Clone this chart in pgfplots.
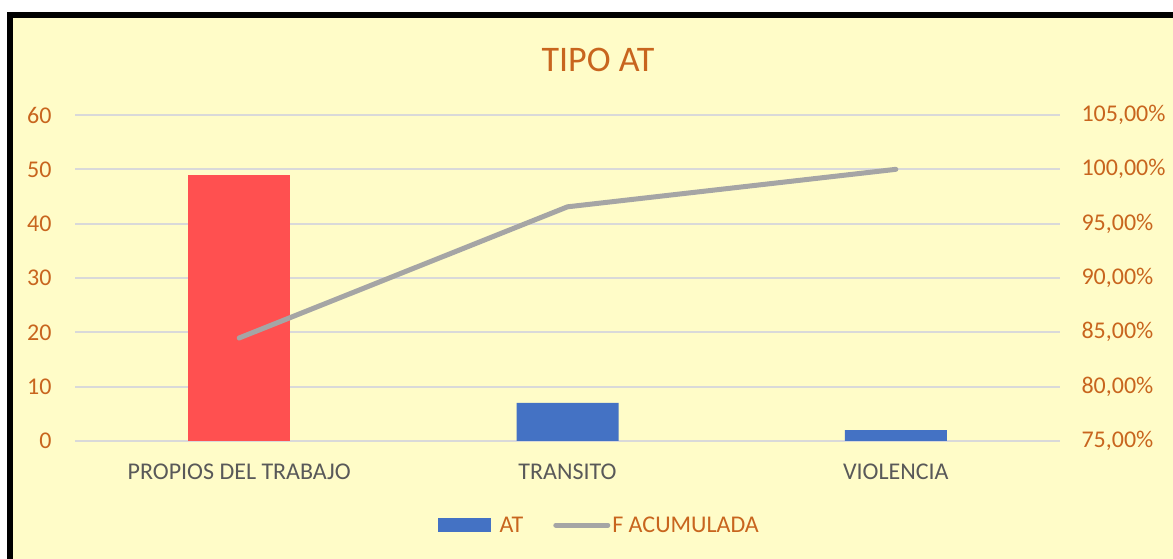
\documentclass[border=0pt]{standalone}
\usepackage{fontspec}
\setmainfont{Carlito}
\usepackage{pgfplots}
\pgfplotsset{compat=1.18}
\definecolor{bgYellow}{HTML}{FFFCC8}
\definecolor{txtOrange}{HTML}{C8651E}
\definecolor{catGray}{HTML}{595959}
\definecolor{gridGray}{HTML}{D9D9D9}
\definecolor{barRed}{HTML}{FF5050}
\definecolor{barBlue}{HTML}{4472C4}
\definecolor{lineGray}{HTML}{A5A5A5}

\begin{document}
\begin{tikzpicture}
% frame and background
\fill[white] (0,0) rectangle (1173pt,559pt);
\fill[black] (7pt,0) rectangle (1173pt,547pt);
\fill[bgYellow] (13pt,0) rectangle (1173pt,541pt);
\node[text=txtOrange, font=\fontsize{36}{40}\selectfont] at (598pt,499pt) {TIPO AT};

% bars, left axis
\begin{axis}[
at={(75pt,118pt)}, anchor=south west,
scale only axis, width=985pt, height=326pt,
xmin=-0.5, xmax=2.5, ymin=0, ymax=60,
xtick={0,1,2},
xticklabels={PROPIOS DEL TRABAJO, TRANSITO, VIOLENCIA},
ytick={0,10,...,60},
axis line style={draw=none}, tick style={draw=none},
ymajorgrids, major grid style={gridGray, line width=2pt},
/pgf/number format/assume math mode=true,
yticklabel style={text=txtOrange, font=\fontsize{24}{28}\selectfont, xshift=-20pt},
xticklabel style={text=catGray, font=\fontsize{24}{28}\selectfont, yshift=-19pt},
]
\addplot[ybar, fill=barRed, draw=none, bar width=102pt, bar shift=0pt] coordinates {(0,49)};
\addplot[ybar, fill=barBlue, draw=none, bar width=102pt, bar shift=0pt] coordinates {(1,7) (2,2)};
\end{axis}

% cumulative line, right axis
\begin{axis}[
at={(75pt,118pt)}, anchor=south west,
scale only axis, width=985pt, height=326pt,
xmin=-0.5, xmax=2.5, ymin=75, ymax=105,
axis y line*=right, axis x line=none,
axis line style={draw=none}, tick style={draw=none},
ytick={75,80,...,105},
yticklabels={{75,00\%},{80,00\%},{85,00\%},{90,00\%},{95,00\%},{100,00\%},{105,00\%}},
yticklabel style={text=txtOrange, font=\fontsize{24}{28}\selectfont, xshift=18pt},
legend style={at={(0.5325,-0.258)}, anchor=center, draw=none, fill=none,
  font=\fontsize{24}{28}\selectfont, text=txtOrange, legend columns=2,
  /tikz/every even column/.append style={column sep=28pt}},
]
\addlegendimage{legend image code/.code={\fill[barBlue] (0pt,-6.5pt) rectangle (52pt,6.5pt); \path (59pt,0pt);}}
\addlegendentry{AT}
\addplot[color=lineGray, line width=5pt, line cap=round, mark=none,
  legend image code/.code={\draw[lineGray, line width=5pt, line cap=round] (0pt,0pt) -- (52pt,0pt);}]
  coordinates {(0,84.48) (1,96.55) (2,100)};
\addlegendentry{F ACUMULADA}
\end{axis}
\end{tikzpicture}
\end{document}
